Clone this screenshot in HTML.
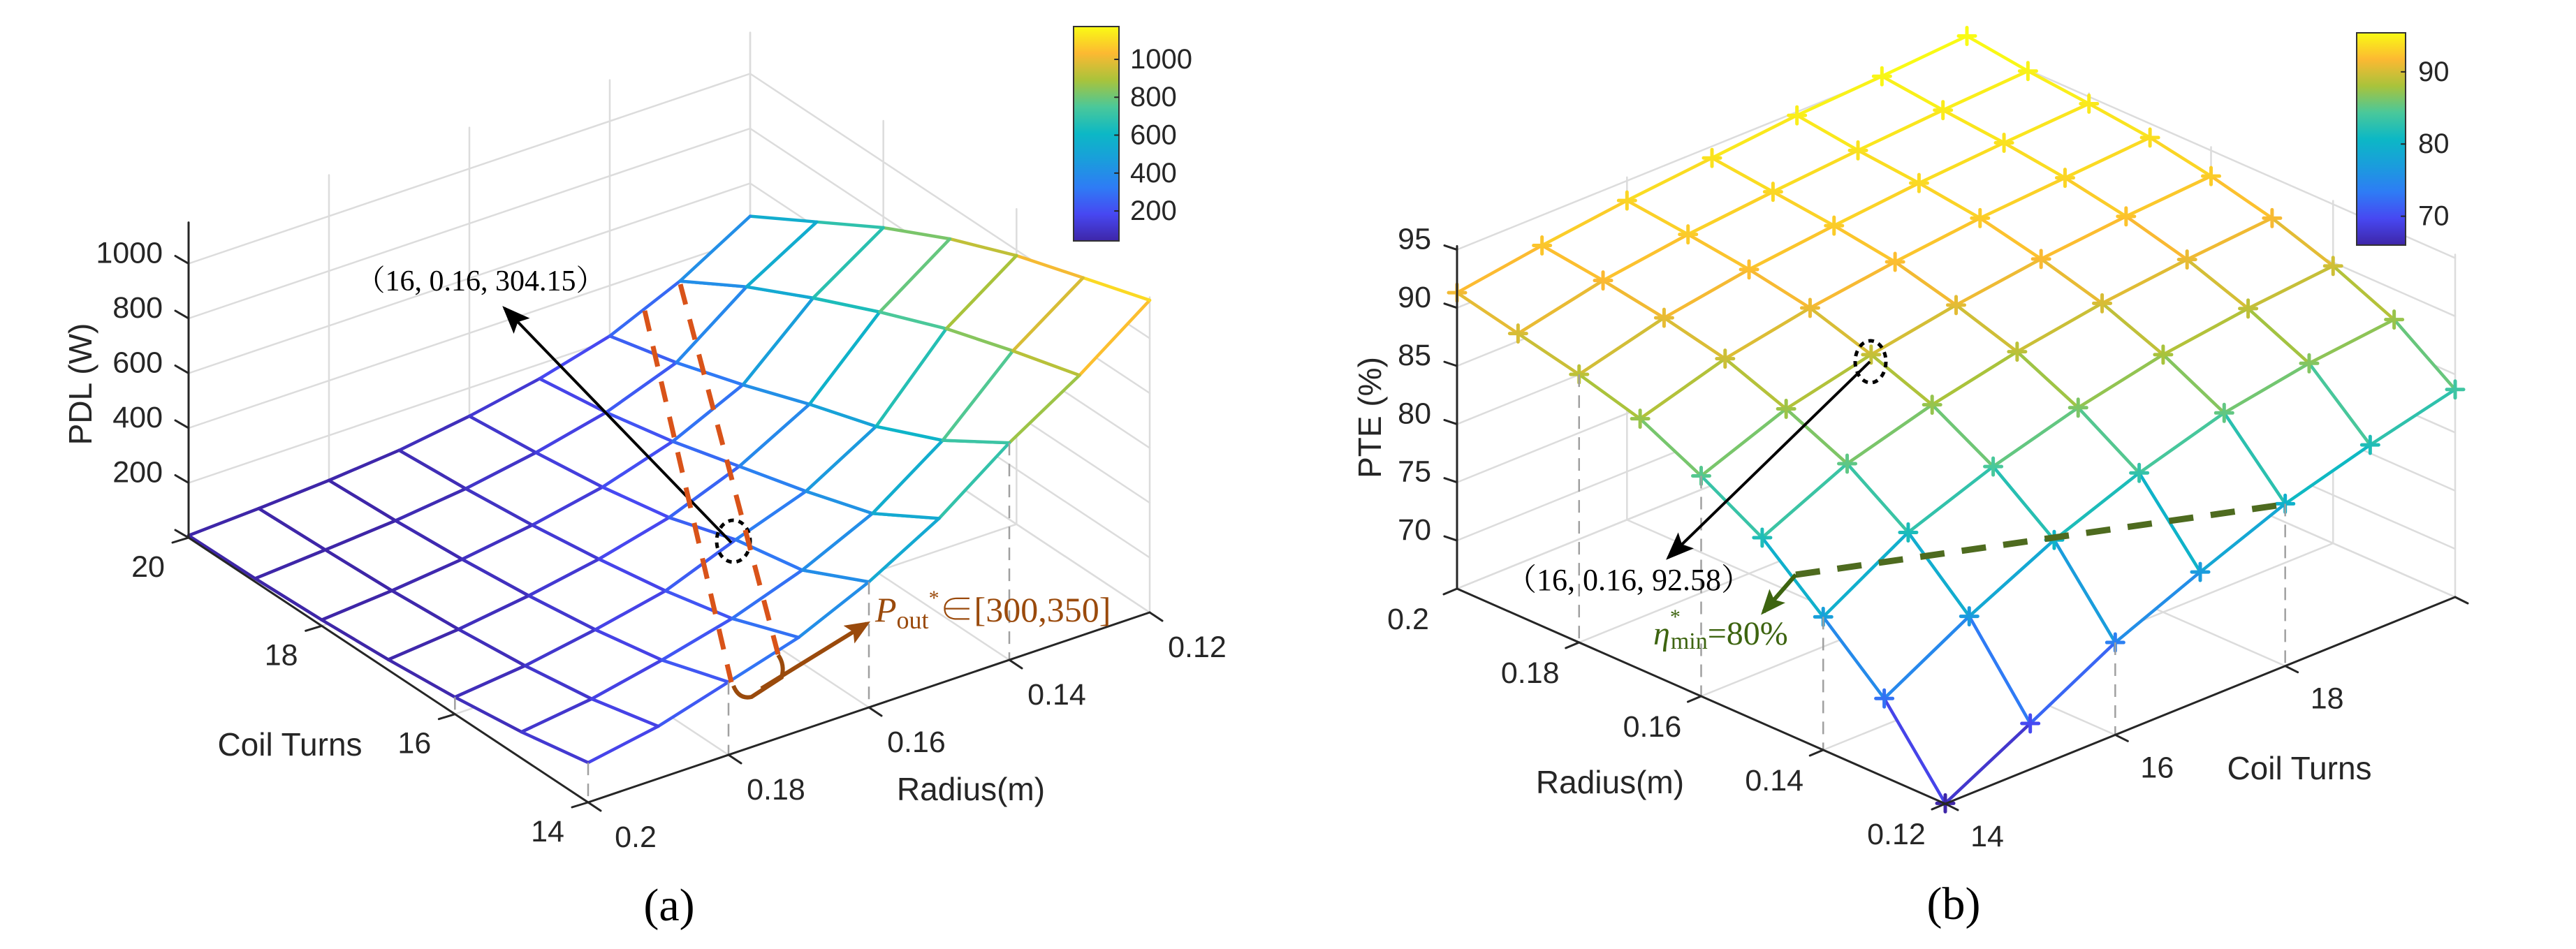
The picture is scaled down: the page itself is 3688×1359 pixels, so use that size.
<!DOCTYPE html>
<html><head><meta charset="utf-8"><style>
html,body{margin:0;padding:0;background:#fff;}
svg{display:block;}
text{font-family:"Liberation Sans",sans-serif;fill:#262626;}
.serif{font-family:"Liberation Serif","Noto Serif CJK SC",serif;}
</style></head><body>
<svg id="fig" width="3688" height="1359" viewBox="0 0 3688 1359" xmlns="http://www.w3.org/2000/svg">
<defs>
<linearGradient id="parula" x1="0" y1="1" x2="0" y2="0">
<stop offset="0" stop-color="#3e26a8"/><stop offset="0.125" stop-color="#4748f2"/><stop offset="0.25" stop-color="#2e7cf5"/><stop offset="0.375" stop-color="#1a9ddc"/><stop offset="0.5" stop-color="#0cb8c5"/><stop offset="0.625" stop-color="#4ac89a"/><stop offset="0.75" stop-color="#a9c33b"/><stop offset="0.875" stop-color="#fcb932"/><stop offset="1" stop-color="#f9fb14"/>
</linearGradient>
<marker id="ahK" markerWidth="10" markerHeight="8" refX="9" refY="4" orient="auto" markerUnits="strokeWidth"><path d="M0,0 L10,4 L0,8 L2,4 z" fill="#000"/></marker>
<marker id="ahB" markerWidth="6" markerHeight="5" refX="5" refY="2.5" orient="auto" markerUnits="strokeWidth"><path d="M0,0 L6,2.5 L0,5 L1.2,2.5 z" fill="#9a4a0c"/></marker>
<marker id="ahG" markerWidth="6" markerHeight="5" refX="5" refY="2.5" orient="auto" markerUnits="strokeWidth"><path d="M0,0 L6,2.5 L0,5 L1.2,2.5 z" fill="#3d6410"/></marker>
</defs>
<g id="gA"></g>
<g id="gB"></g>

<rect x="1537" y="38" width="65" height="307" fill="url(#parula)" stroke="#333" stroke-width="2"/>
<rect x="3374" y="47" width="70" height="304" fill="url(#parula)" stroke="#333" stroke-width="2"/>

<text class="serif" x="688" y="416" font-size="42" text-anchor="middle" style="fill:#000">（16, 0.16, 304.15）</text>
<line x1="1047" y1="777" x2="722" y2="441" stroke="#000" stroke-width="4" marker-end="url(#ahK)"/>
<ellipse cx="1050" cy="775" rx="24" ry="30" fill="none" stroke="#000" stroke-width="5" stroke-dasharray="8 7"/>
<line x1="923" y1="445" x2="1047" y2="977" stroke="#d95319" stroke-width="7" stroke-dasharray="30 22"/>
<line x1="974" y1="407" x2="1114" y2="937" stroke="#d95319" stroke-width="7" stroke-dasharray="30 22"/>
<path d="M1050,982 Q1058,1002 1076,998 L1119,970 Q1124,952 1114,938" fill="none" stroke="#9a4a0c" stroke-width="6"/>
<line x1="1090" y1="986" x2="1241" y2="893" stroke="#9a4a0c" stroke-width="6" marker-end="url(#ahB)"/>
<text class="serif" x="1253" y="890" font-size="50" style="fill:#9a4a0c"><tspan font-style="italic">P</tspan><tspan font-size="36" dy="10">out</tspan><tspan font-size="30" dy="-34">*</tspan><tspan dy="24">∈[300,350]</tspan></text>

<text class="serif" x="2332" y="845" font-size="44" text-anchor="middle" style="fill:#000">（16, 0.16, 92.58）</text>
<line x1="2677" y1="518" x2="2388" y2="799" stroke="#000" stroke-width="4" marker-end="url(#ahK)"/>
<ellipse cx="2678" cy="518" rx="22" ry="30" fill="none" stroke="#000" stroke-width="5" stroke-dasharray="8 7"/>
<line x1="2571" y1="823" x2="3273" y2="722" stroke="#4e6b1f" stroke-width="9" stroke-dasharray="35 25"/>
<line x1="2571" y1="823" x2="2525" y2="876" stroke="#3d6410" stroke-width="6" marker-end="url(#ahG)"/>
<text class="serif" x="2367" y="923" font-size="48" style="fill:#3d6410"><tspan font-style="italic">η</tspan><tspan font-size="30" dy="-30">*</tspan><tspan font-size="34" dy="36" dx="-14">min</tspan><tspan dy="-6">=80%</tspan></text>

<text class="serif" x="958" y="1318" font-size="66" text-anchor="middle" style="fill:#000">(a)</text>
<text class="serif" x="2797" y="1316" font-size="66" text-anchor="middle" style="fill:#000">(b)</text>
</svg>
<script>
const turns = [14, 15, 16, 17, 18, 19, 20];
const radii = [0.20, 0.19, 0.18, 0.17, 0.16, 0.15, 0.14, 0.13, 0.12];
const pdl = [
  [145, 191, 266, 342, 458, 603, 792, 952, 1139],
  [96, 130, 185, 250, 340, 460, 640, 880, 1060],
  [62, 90, 135, 190, 290, 380, 530, 800, 980],
  [38, 62, 98, 145, 210, 310, 450, 700, 880],
  [22, 42, 70, 108, 160, 240, 360, 590, 760],
  [12, 30, 50, 80, 125, 185, 280, 470, 620],
  [8, 20, 36, 59, 97, 147, 216, 330, 480]
];
const pte = [
  [91.3, 90.1, 88.9, 87.4, 84.8, 81.8, 77.3, 72.6, 65.9],
  [92.4, 91.7, 90.8, 89.6, 87.6, 85.2, 81.6, 76.7, 69.8],
  [93.3, 92.7, 92.0, 91.0, 89.3, 87.3, 84.3, 80.3, 73.8],
  [94.0, 93.4, 92.8, 92.0, 90.6, 88.9, 86.4, 83.1, 76.9],
  [94.7, 94.0, 93.5, 92.8, 91.6, 90.1, 88.0, 85.3, 79.8],
  [95.1, 94.5, 94.0, 93.3, 92.3, 90.9, 89.0, 86.6, 81.9],
  [95.6, 94.9, 94.4, 93.8, 92.8, 91.5, 89.7, 87.4, 83.7]
];
const zTicksA = [200, 400, 600, 800, 1000];
const zTicksB = [70, 75, 80, 85, 90, 95];
const turnTicks = [14, 16, 18, 20];
const radiusTicks = [0.2, 0.18, 0.16, 0.14, 0.12];
const radiusTickLabels = ["0.2", "0.18", "0.16", "0.14", "0.12"];
const cbTicksA = [200, 400, 600, 800, 1000];
const cbTicksB = [70, 80, 90];
const dropA = [[14, 0.2], [14, 0.18], [14, 0.16], [14, 0.14], [16, 0.2]];
const dropB = [[14, 0.18], [14, 0.16], [14, 0.14], [16, 0.12], [18, 0.12]];

const NS = "http://www.w3.org/2000/svg";
const stops = [[62,38,168],[71,72,242],[46,124,245],[26,157,220],[12,184,197],[74,200,154],[169,195,59],[252,185,50],[249,251,20]];
function parula(v, lo, hi) {
  let f = Math.max(0, Math.min(1, (v - lo) / (hi - lo))) * (stops.length - 1);
  const i = Math.min(stops.length - 2, Math.floor(f)); f -= i;
  const c = stops[i].map((a, k) => Math.round(a + (stops[i + 1][k] - a) * f));
  return "rgb(" + c.join(",") + ")";
}
function mk(parent, tag, attrs, name) {
  const el = document.createElementNS(NS, tag);
  for (const k in attrs) el.setAttribute(k, attrs[k]);
  
  
  parent.appendChild(el);
  return el;
}
function line(p, a, b, stroke, w, name, dash) {
  const at = {x1: a[0], y1: a[1], x2: b[0], y2: b[1], stroke: stroke, "stroke-width": w, "stroke-linecap": "round"};
  if (dash) { at["stroke-dasharray"] = dash; at["stroke-linecap"] = "butt"; }
  return mk(p, "line", at, name);
}
function txt(p, x, y, s, size, anchor, name, rot) {
  const at = {x: x, y: y, "font-size": size, "text-anchor": anchor || "middle", "dominant-baseline": "central"};
  if (rot) at.transform = "rotate(" + rot + " " + x + " " + y + ")";
  const t = mk(p, "text", at, name);
  t.textContent = s;
  return t;
}
function pa(t, r, z) {
  const u = (t - 14) / 6, v = (0.2 - r) / 0.08;
  return [842 - 572 * u + 804 * v, 1149 - 379 * u - 272 * v - z * 0.3925];
}
const zB0 = 65.86;
function pb(t, r, z) {
  const u = (t - 14) / 6, v = (r - 0.12) / 0.08;
  return [2785 + 730 * u - 699 * v, 1151 - 296 * u - 308 * v - (z - zB0) * 16.66];
}
const GRID = "#dcdcdc";
const TF = 43, LF = 46;

(function () {
  const g = document.getElementById("gA");
  const zmax = 1150;
  radiusTicks.forEach(r => line(g, pa(20, r, 0), pa(20, r, zmax), GRID, 2.5, "wall-grid-vertical"));
  turnTicks.forEach(t => line(g, pa(t, 0.12, 0), pa(t, 0.12, zmax), GRID, 2.5, "wall-grid-vertical"));
  zTicksA.forEach(z => {
    line(g, pa(20, 0.2, z), pa(20, 0.12, z), GRID, 2.5, "wall-grid-horizontal");
    line(g, pa(20, 0.12, z), pa(14, 0.12, z), GRID, 2.5, "wall-grid-horizontal");
  });
  line(g, pa(20, 0.12, 0), pa(14, 0.12, 0), GRID, 2.5, "floor-edge");
  radiusTicks.forEach(r => line(g, pa(14, r, 0), pa(20, r, 0), GRID, 2.5, "floor-grid"));
  turnTicks.forEach(t => line(g, pa(t, 0.2, 0), pa(t, 0.12, 0), GRID, 2.5, "floor-grid"));
  const quads = [];
  for (let i = 0; i < turns.length - 1; i++) for (let j = 0; j < radii.length - 1; j++) quads.push([i, j]);
  quads.sort((a, b) => (b[0] - b[1] * 0.75) - (a[0] - a[1] * 0.75));
  const P = (i, j) => pa(turns[i], radii[j], pdl[i][j]);
  const col = (v) => parula(v, 42, 1173);
  quads.forEach(([i, j]) => {
    const pts = [P(i, j), P(i, j + 1), P(i + 1, j + 1), P(i + 1, j)];
    mk(g, "polygon", {points: pts.map(p => p.join(",")).join(" "), fill: "#fff", stroke: "none"}, "surface-face");
    const edges = [[[i, j], [i, j + 1]], [[i, j + 1], [i + 1, j + 1]], [[i + 1, j + 1], [i + 1, j]], [[i + 1, j], [i, j]]];
    edges.forEach(([a, b]) => {
      const v = (pdl[a[0]][a[1]] + pdl[b[0]][b[1]]) / 2;
      line(g, P(a[0], a[1]), P(b[0], b[1]), col(v), 4.5, "surface-mesh-line");
    });
  });
  dropA.forEach(([t, r]) => {
    const i = turns.indexOf(t), j = radii.findIndex(x => Math.abs(x - r) < 1e-6);
    line(g, pa(t, r, pdl[i][j]), pa(t, r, 0), "#a0a0a0", 2.5, "drop-line", "18 12");
  });
  line(g, pa(20, 0.2, 0), pa(20, 0.2, zmax), "#262626", 3, "z-axis-line");
  line(g, pa(20, 0.2, 0), pa(14, 0.2, 0), "#262626", 3, "turns-axis-line");
  line(g, pa(14, 0.2, 0), pa(14, 0.12, 0), "#262626", 3, "radius-axis-line");
  zTicksA.concat([0]).forEach(z => {
    const p = pa(20, 0.2, z);
    line(g, p, [p[0] - 19, p[1] - 11], "#262626", 3, "z-tick");
  });
  zTicksA.forEach(z => {
    const p = pa(20, 0.2, z);
    txt(g, 233, p[1] - 15, String(z), TF, "end", "z-tick-label");
  });
  turnTicks.forEach(t => {
    const p = pa(t, 0.2, 0);
    line(g, p, [p[0] - 23, p[1] + 7], "#262626", 3, "turns-tick");
    txt(g, p[0] - 58, p[1] + 42, String(t), TF, "middle", "turns-tick-label");
  });
  radiusTicks.forEach((r, k) => {
    const p = pa(14, r, 0);
    line(g, p, [p[0] + 18, p[1] + 12], "#262626", 3, "radius-tick");
    txt(g, p[0] + 68, p[1] + 50, radiusTickLabels[k], TF, "middle", "radius-tick-label");
  });
  txt(g, 415, 1066, "Coil Turns", LF, "middle", "turns-axis-title");
  txt(g, 1390, 1130, "Radius(m)", LF, "middle", "radius-axis-title");
  txt(g, 115, 550, "PDL (W)", LF, "middle", "z-axis-title", -90);
  const svg = document.getElementById("fig");
  cbTicksA.forEach(v => {
    const y = 345 - (v - 42) / (1173 - 42) * 307;
    line(svg, [1596, y], [1602, y], "#262626", 2, "colorbar-a-tick");
    txt(svg, 1618, y, String(v), 40, "start", "colorbar-a-label");
  });
})();

(function () {
  const g = document.getElementById("gB");
  const zmax = 95.3;
  turnTicks.forEach(t => line(g, pb(t, 0.2, zB0), pb(t, 0.2, zmax), GRID, 2.5, "wall-grid-vertical"));
  radiusTicks.forEach(r => line(g, pb(20, r, zB0), pb(20, r, zmax), GRID, 2.5, "wall-grid-vertical"));
  zTicksB.forEach(z => {
    line(g, pb(14, 0.2, z), pb(20, 0.2, z), GRID, 2.5, "wall-grid-horizontal");
    line(g, pb(20, 0.2, z), pb(20, 0.12, z), GRID, 2.5, "wall-grid-horizontal");
  });
  line(g, pb(14, 0.2, zB0), pb(20, 0.2, zB0), GRID, 2.5, "floor-edge");
  line(g, pb(20, 0.2, zB0), pb(20, 0.12, zB0), GRID, 2.5, "floor-edge");
  radiusTicks.forEach(r => line(g, pb(14, r, zB0), pb(20, r, zB0), GRID, 2.5, "floor-grid"));
  turnTicks.forEach(t => line(g, pb(t, 0.2, zB0), pb(t, 0.12, zB0), GRID, 2.5, "floor-grid"));
  const P = (i, j) => pb(turns[i], radii[j], pte[i][j]);
  const col = (v) => parula(v, 66, 95.4);
  const quads = [];
  for (let i = 0; i < turns.length - 1; i++) for (let j = 0; j < radii.length - 1; j++) quads.push([i, j]);
  quads.sort((a, b) => (b[0] / 6 + (8 - b[1]) / 8) - (a[0] / 6 + (8 - a[1]) / 8));
  quads.forEach(([i, j]) => {
    const pts = [P(i, j), P(i, j + 1), P(i + 1, j + 1), P(i + 1, j)];
    mk(g, "polygon", {points: pts.map(p => p.join(",")).join(" "), fill: "#fff", stroke: "none"}, "surface-face");
    const edges = [[[i, j], [i, j + 1]], [[i, j + 1], [i + 1, j + 1]], [[i + 1, j + 1], [i + 1, j]], [[i + 1, j], [i, j]]];
    edges.forEach(([a, b]) => {
      const v = (pte[a[0]][a[1]] + pte[b[0]][b[1]]) / 2;
      line(g, P(a[0], a[1]), P(b[0], b[1]), col(v), 4.5, "surface-mesh-line");
    });
  });
  for (let i = 0; i < turns.length; i++) for (let j = 0; j < radii.length; j++) {
    const p = P(i, j), c = col(pte[i][j]);
    line(g, [p[0] - 12, p[1]], [p[0] + 12, p[1]], c, 5, "data-marker");
    line(g, [p[0], p[1] - 12], [p[0], p[1] + 12], c, 5, "data-marker");
  }
  dropB.forEach(([t, r]) => {
    const i = turns.indexOf(t), j = radii.findIndex(x => Math.abs(x - r) < 1e-6);
    line(g, pb(t, r, pte[i][j]), pb(t, r, zB0), "#a0a0a0", 2.5, "drop-line", "18 12");
  });
  line(g, pb(14, 0.2, zB0), pb(14, 0.2, zmax), "#262626", 3, "z-axis-line");
  line(g, pb(14, 0.2, zB0), pb(14, 0.12, zB0), "#262626", 3, "radius-axis-line");
  line(g, pb(14, 0.12, zB0), pb(20, 0.12, zB0), "#262626", 3, "turns-axis-line");
  zTicksB.forEach(z => {
    const p = pb(14, 0.2, z);
    line(g, p, [p[0] - 18, p[1] - 6], "#262626", 3, "z-tick");
    txt(g, 2049, p[1] - 15, String(z), TF, "end", "z-tick-label");
  });
  radiusTicks.forEach((r, k) => {
    const p = pb(14, r, zB0);
    line(g, p, [p[0] - 19, p[1] + 8], "#262626", 3, "radius-tick");
    txt(g, p[0] - 70, p[1] + 44, radiusTickLabels[k], TF, "middle", "radius-tick-label");
  });
  turnTicks.forEach(t => {
    const p = pb(t, 0.12, zB0);
    line(g, p, [p[0] + 18, p[1] + 9], "#262626", 3, "turns-tick");
    if (t < 20) txt(g, p[0] + 60, p[1] + 47, String(t), TF, "middle", "turns-tick-label");
  });
  txt(g, 2305, 1120, "Radius(m)", LF, "middle", "radius-axis-title");
  txt(g, 3292, 1100, "Coil Turns", LF, "middle", "turns-axis-title");
  txt(g, 1961, 598, "PTE (%)", LF, "middle", "z-axis-title", -90);
  const svg = document.getElementById("fig");
  cbTicksB.forEach(v => {
    const y = 351 - (v - 66) / (95.4 - 66) * 304;
    line(svg, [3438, y], [3444, y], "#262626", 2, "colorbar-b-tick");
    txt(svg, 3462, y, String(v), 40, "start", "colorbar-b-label");
  });
})();
(function () {
  const svg = document.getElementById("fig");
  ["gA", "gB"].forEach(id => svg.insertBefore(document.getElementById(id), svg.querySelector("rect")));
})();
</script>
</body></html>
